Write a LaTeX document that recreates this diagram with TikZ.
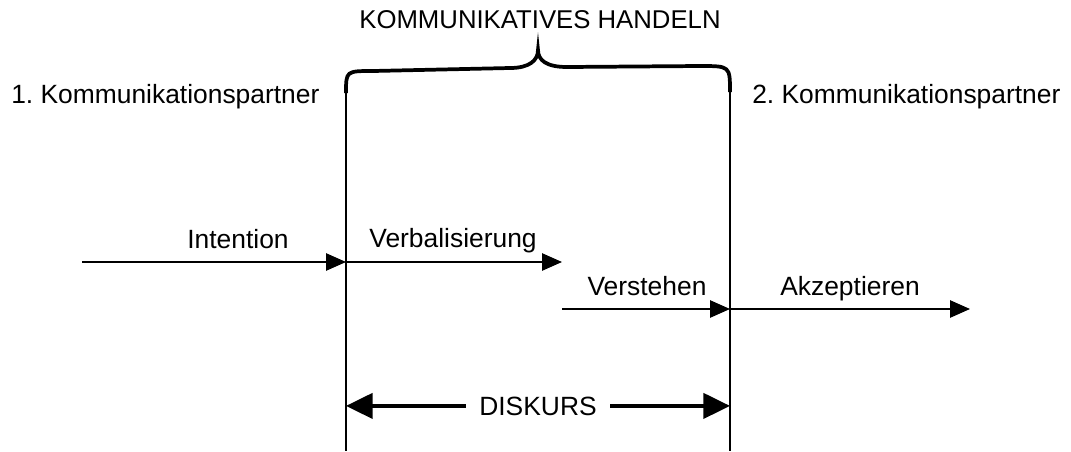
\documentclass[tikz,border=0pt]{standalone}
\usepackage{fontspec}
\setmainfont{Liberation Sans}
\usetikzlibrary{arrows.meta}
\frenchspacing

\begin{document}
\begin{tikzpicture}[x=0.75pt,y=-0.75pt,>={Triangle[length=15pt,width=13pt]},
                    txt/.style={anchor=base,inner sep=0pt,font=\fontsize{19.8}{23}\selectfont},
                    flow/.style={->,line width=1.2pt},
                    border/.style={line width=0.9pt},
                    bracket/.style={line width=2.8pt},
                    span/.style={->,>={Triangle[length=20pt,width=19pt]},line width=2.4pt}]
  \useasboundingbox (0,0) rectangle (1071,451);

  \node[txt,font=\fontsize{19.3}{23}\selectfont] (handeln) at (540,28) {KOMMUNIKATIVES HANDELN};
  \node[txt,anchor=base west]  (partnerA) at (11,103)  {1. Kommunikationspartner};
  \node[txt,anchor=base west]  (partnerB) at (752,103) {2. Kommunikationspartner};

  \coordinate (leftTop)  at (346,93);
  \coordinate (leftBot)  at (346,451);
  \coordinate (rightTop) at (730,92);
  \coordinate (rightBot) at (730,451);

  % die beiden Grenzen
  \draw[border] (leftTop) -- (leftBot);
  \draw[border] (rightTop) -- (rightBot);

  % Klammer oben
  \draw[bracket] (leftTop) .. controls (346,71) .. (373,71) -- (510,68)
        .. controls (530,68) and (538,60) .. (538,50)
        .. controls (538,60) and (546,67) .. (567,67) -- (700,66)
        .. controls (730,66) .. (rightTop);

  \coordinate (intStart) at (82,262);
  \coordinate (intEnd)   at (346,262);
  \coordinate (verbEnd)  at (562,262);
  \coordinate (verStart) at (562,309);
  \coordinate (verEnd)   at (730,309);
  \coordinate (akzEnd)   at (970,309);

  \node[txt] (intention) at (238,248) {Intention};
  \node[txt] (verbal)    at (453,247) {Verbalisierung};
  \node[txt] (verstehen) at (647,295) {Verstehen};
  \node[txt] (akzept)    at (850,295) {Akzeptieren};

  \draw[flow] (intStart) -- (intEnd);
  \draw[flow] (intEnd)   -- (verbEnd);
  \draw[flow] (verStart) -- (verEnd);
  \draw[flow] (verEnd)   -- (akzEnd);

  % Diskurs
  \node[txt,inner xsep=10pt] (diskurs) at (538,415) {DISKURS};
  \coordinate (dLeft)  at (leftTop |- diskurs.west);
  \coordinate (dRight) at (rightTop |- diskurs.east);
  \draw[span] (diskurs.west) -- (dLeft);
  \draw[span] (diskurs.east) -- (dRight);
\end{tikzpicture}
\end{document}
